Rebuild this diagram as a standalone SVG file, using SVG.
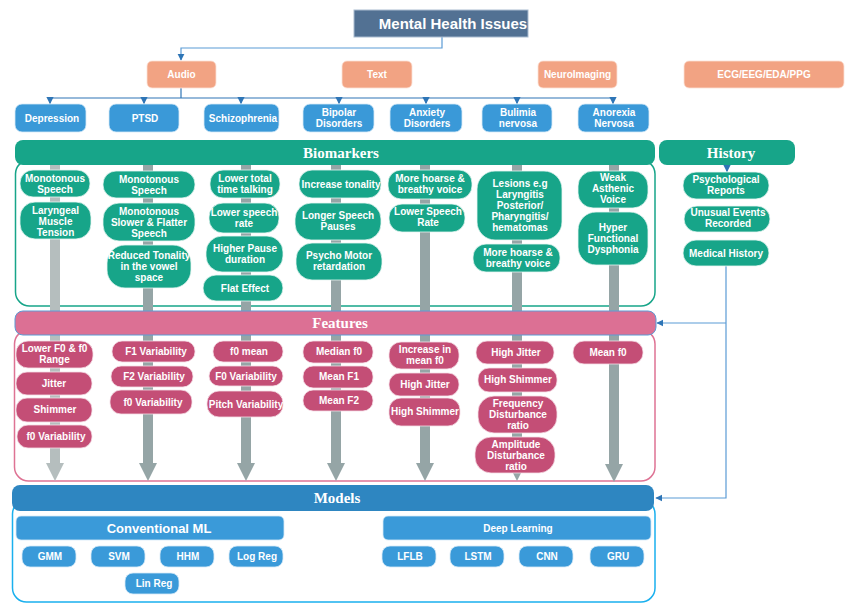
<svg xmlns="http://www.w3.org/2000/svg" width="861" height="615" viewBox="0 0 861 615">
<defs>
<style>
.t{font-family:"Liberation Sans",Arial,sans-serif;font-weight:bold;font-size:10px;fill:#fff;text-anchor:middle}
.h{font-family:"Liberation Serif","Times New Roman",serif;font-weight:bold;font-size:15px;fill:#fff;text-anchor:middle}
.bio{fill:#17A589;stroke:#E8F6F3;stroke-width:0.8}
.feat{fill:#C44E76;stroke:#F5DDE6;stroke-width:0.8}
.dis{fill:#3A99D8;stroke:#D6EAF8;stroke-width:0.8}
.mod{fill:#3A9AD9;stroke:#D6EAF8;stroke-width:0.8}
.src{fill:#F2A383;stroke:#FBE1D6;stroke-width:0.8}
.ln{fill:none;stroke:#2E75B6;stroke-width:1.2}
.ln2{fill:none;stroke:#5B9BD5;stroke-width:1.2}
.shaft{fill:#95A5A6}
.shaft1{fill:#B5BEBE}
</style>
<marker id="ah" viewBox="0 0 10 10" refX="9" refY="5" markerWidth="6" markerHeight="6" orient="auto">
<path d="M0,0 L10,5 L0,10 z" fill="#2E75B6"/>
</marker>
</defs>

<!-- containers -->
<g id="containers">
<rect x="15.5" y="160" width="639.5" height="146" rx="14" fill="#fff" stroke="#17A589" stroke-width="1.5"/>
<rect x="14.5" y="330" width="640.5" height="151" rx="14" fill="#fff" stroke="#DE7394" stroke-width="1.5"/>
<rect x="12.5" y="500" width="642.5" height="102" rx="14" fill="#fff" stroke="#1AB0EE" stroke-width="1.5"/>
</g>

<!-- gray flow arrows -->
<g id="flow-arrows">
<rect class="shaft1" x="50" y="160" width="10" height="305"/>
<path class="shaft1" d="M46,463 L64,463 L55,481 z"/>
<rect class="shaft" x="143" y="160" width="10" height="305"/>
<path class="shaft" d="M139,463 L157,463 L148,481 z"/>
<rect class="shaft" x="241" y="160" width="10" height="305"/>
<path class="shaft" d="M237,463 L255,463 L246,481 z"/>
<rect class="shaft" x="331" y="160" width="10" height="305"/>
<path class="shaft" d="M327,463 L345,463 L336,481 z"/>
<rect class="shaft" x="420" y="160" width="10" height="305"/>
<path class="shaft" d="M416,463 L434,463 L425,481 z"/>
<rect class="shaft" x="512" y="160" width="10" height="305"/>
<path class="shaft" d="M508,463 L526,463 L517,481 z"/>
<rect class="shaft" x="609" y="160" width="10" height="305"/>
<path class="shaft" d="M605,464 L623,464 L614,482 z"/>
</g>

<!-- connectors -->
<g id="connectors">
<path class="ln2" d="M442,37 L442,48 L181,48 L181,60" marker-end="url(#ah)"/>
<path class="ln" d="M181,88 L181,98" stroke-width="1.6"/>
<path class="ln" d="M50,98 L614,98"/>
<path class="ln" d="M50,98 L50,103.5" marker-end="url(#ah)"/>
<path class="ln" d="M144,98 L144,103.5" marker-end="url(#ah)"/>
<path class="ln" d="M241,98 L241,103.5" marker-end="url(#ah)"/>
<path class="ln" d="M339,98 L339,103.5" marker-end="url(#ah)"/>
<path class="ln" d="M426,98 L426,103.5" marker-end="url(#ah)"/>
<path class="ln" d="M517,98 L517,103.5" marker-end="url(#ah)"/>
<path class="ln" d="M613,98 L613,103.5" marker-end="url(#ah)"/>
<path class="ln" d="M727,165 L727,171.5" marker-end="url(#ah)"/>
<path class="ln2" d="M726,266 L726,498 L656,498" marker-end="url(#ah)"/>
<path class="ln2" d="M726,323 L657,323" marker-end="url(#ah)"/>
</g>

<!-- title and sources -->
<g id="title">
<rect x="354" y="10" width="174" height="27" fill="#527193" stroke="#A9BCD0" stroke-width="1"/>
<text x="453" y="28.5" class="t" style="font-size:15px">Mental Health Issues</text>
</g>
<g id="src-audio"><rect class="src" x="147" y="61" width="69" height="27" rx="5"/><text class="t" x="181.5" y="78">Audio</text></g>
<g id="src-text"><rect class="src" x="342" y="61" width="70" height="27" rx="5"/><text class="t" x="377" y="78">Text</text></g>
<g id="src-neuro"><rect class="src" x="538" y="61" width="79" height="27" rx="5"/><text class="t" x="577.5" y="78">NeuroImaging</text></g>
<g id="src-ecg"><rect class="src" x="684" y="61" width="160" height="27" rx="5"/><text class="t" x="764" y="78">ECG/EEG/EDA/PPG</text></g>

<!-- disorders -->
<g id="dis-depression"><rect class="dis" x="15" y="104" width="71" height="28" rx="7"/><text class="t" x="52" y="121.5">Depression</text></g>
<g id="dis-ptsd"><rect class="dis" x="109" y="104" width="70" height="28" rx="7"/><text class="t" x="145" y="121.5">PTSD</text></g>
<g id="dis-schizo"><rect class="dis" x="204" y="104" width="75" height="28" rx="7"/><text class="t" x="243" y="121.5">Schizophrenia</text></g>
<g id="dis-bipolar"><rect class="dis" x="303" y="104" width="71" height="28" rx="7"/><text class="t" x="339" y="115.5">Bipolar<tspan x="339" dy="11">Disorders</tspan></text></g>
<g id="dis-anxiety"><rect class="dis" x="390" y="104" width="72" height="28" rx="7"/><text class="t" x="427" y="115.5">Anxiety<tspan x="427" dy="11">Disorders</tspan></text></g>
<g id="dis-bulimia"><rect class="dis" x="482" y="104" width="70" height="28" rx="7"/><text class="t" x="518" y="115.5">Bulimia<tspan x="518" dy="11">nervosa</tspan></text></g>
<g id="dis-anorexia"><rect class="dis" x="578" y="104" width="71" height="28" rx="7"/><text class="t" x="614" y="115.5">Anorexia<tspan x="614" dy="11">Nervosa</tspan></text></g>

<!-- section bars -->
<g id="bar-biomarkers"><rect x="15" y="140" width="640" height="25" rx="8" fill="#17A589"/><text class="h" x="341" y="157.5">Biomarkers</text></g>
<g id="bar-history"><rect x="659" y="140" width="136" height="25" rx="8" fill="#17A589"/><text class="h" x="731" y="157.5">History</text></g>
<g id="bar-features"><rect x="15" y="311" width="641" height="24" rx="8" fill="#DC7094" stroke="#5B9BD5" stroke-width="1"/><text class="h" x="340" y="327.5">Features</text></g>
<g id="bar-models"><rect x="12" y="485" width="642" height="26" rx="8" fill="#2E86C1"/><text class="h" x="337" y="502.5">Models</text></g>

<!-- biomarker nodes -->
<g id="bio-1"><rect class="bio" x="20" y="170" width="70" height="27" rx="13"/><text class="t" x="55" y="181.5">Monotonous<tspan x="55" dy="11">Speech</tspan></text></g>
<g id="bio-2"><rect class="bio" x="20" y="202" width="71" height="37" rx="15"/><text class="t" x="55.5" y="213.5">Laryngeal<tspan x="55.5" dy="11">Muscle</tspan><tspan x="55.5" dy="11">Tension</tspan></text></g>
<g id="bio-3"><rect class="bio" x="103" y="171" width="92" height="27" rx="13"/><text class="t" x="149" y="182.5">Monotonous<tspan x="149" dy="11">Speech</tspan></text></g>
<g id="bio-4"><rect class="bio" x="103" y="203" width="92" height="38" rx="16"/><text class="t" x="149" y="214.5">Monotonous<tspan x="149" dy="11">Slower &amp; Flatter</tspan><tspan x="149" dy="11">Speech</tspan></text></g>
<g id="bio-5"><rect class="bio" x="107" y="245" width="84" height="43" rx="18"/><text class="t" x="149" y="258.5">Reduced Tonality<tspan x="149" dy="11">in the vowel</tspan><tspan x="149" dy="11">space</tspan></text></g>
<g id="bio-6"><rect class="bio" x="210" y="170" width="70" height="28" rx="13"/><text class="t" x="245" y="181.5">Lower total<tspan x="245" dy="11">time talking</tspan></text></g>
<g id="bio-7"><rect class="bio" x="209" y="203" width="70" height="30" rx="14"/><text class="t" x="244" y="215.5">Lower speech<tspan x="244" dy="11">rate</tspan></text></g>
<g id="bio-8"><rect class="bio" x="206" y="236" width="77" height="36" rx="16"/><text class="t" x="245" y="251.5">Higher Pause<tspan x="245" dy="11">duration</tspan></text></g>
<g id="bio-9"><rect class="bio" x="203" y="275" width="80" height="26" rx="13"/><text class="t" x="245" y="291.5">Flat Effect</text></g>
<g id="bio-10"><rect class="bio" x="299" y="170" width="82" height="28" rx="13"/><text class="t" x="341" y="187.5">Increase tonality</text></g>
<g id="bio-11"><rect class="bio" x="295" y="203" width="86" height="37" rx="16"/><text class="t" x="338" y="219">Longer Speech<tspan x="338" dy="11">Pauses</tspan></text></g>
<g id="bio-12"><rect class="bio" x="296" y="243" width="86" height="37" rx="16"/><text class="t" x="339" y="259">Psycho Motor<tspan x="339" dy="11">retardation</tspan></text></g>
<g id="bio-13"><rect class="bio" x="388" y="170" width="84" height="29" rx="13"/><text class="t" x="430" y="182">More hoarse &amp;<tspan x="430" dy="11">breathy voice</tspan></text></g>
<g id="bio-14"><rect class="bio" x="389" y="204" width="76" height="28" rx="13"/><text class="t" x="428" y="215">Lower Speech<tspan x="428" dy="11">Rate</tspan></text></g>
<g id="bio-15"><rect class="bio" x="477" y="171" width="85" height="69" rx="18"/><text class="t" x="520" y="186.5">Lesions e.g<tspan x="520" dy="11">Laryngitis</tspan><tspan x="520" dy="11">Posterior/</tspan><tspan x="520" dy="11">Pharyngitis/</tspan><tspan x="520" dy="11">hematomas</tspan></text></g>
<g id="bio-16"><rect class="bio" x="473" y="244" width="87" height="28" rx="13"/><text class="t" x="518" y="255.5">More hoarse &amp;<tspan x="518" dy="11">breathy voice</tspan></text></g>
<g id="bio-17"><rect class="bio" x="578" y="171" width="70" height="37" rx="15"/><text class="t" x="613" y="180.5">Weak<tspan x="613" dy="11">Asthenic</tspan><tspan x="613" dy="11">Voice</tspan></text></g>
<g id="bio-18"><rect class="bio" x="578" y="212" width="70" height="53" rx="18"/><text class="t" x="613" y="230.5">Hyper<tspan x="613" dy="11">Functional</tspan><tspan x="613" dy="11">Dysphonia</tspan></text></g>

<!-- history nodes -->
<g id="hist-1"><rect class="bio" x="683" y="172" width="86" height="27" rx="13"/><text class="t" x="726" y="182.5">Psychological<tspan x="726" dy="11">Reports</tspan></text></g>
<g id="hist-2"><rect class="bio" x="684" y="206" width="86" height="26" rx="13"/><text class="t" x="728" y="216">Unusual Events<tspan x="728" dy="11">Recorded</tspan></text></g>
<g id="hist-3"><rect class="bio" x="683" y="240" width="86" height="26" rx="13"/><text class="t" x="726" y="256.5">Medical History</text></g>

<!-- feature nodes -->
<g id="feat-1"><rect class="feat" x="16" y="341" width="77" height="27" rx="12"/><text class="t" x="54.5" y="352">Lower F0 &amp; f0<tspan x="54.5" dy="11">Range</tspan></text></g>
<g id="feat-2"><rect class="feat" x="16" y="372" width="76" height="23" rx="11"/><text class="t" x="54" y="387">Jitter</text></g>
<g id="feat-3"><rect class="feat" x="16" y="398" width="76" height="24" rx="11"/><text class="t" x="55" y="413">Shimmer</text></g>
<g id="feat-4"><rect class="feat" x="17" y="425" width="75" height="23" rx="11"/><text class="t" x="56" y="440">f0 Variability</text></g>
<g id="feat-5"><rect class="feat" x="112" y="341" width="83" height="21" rx="10"/><text class="t" x="156" y="355">F1 Variability</text></g>
<g id="feat-6"><rect class="feat" x="111" y="366" width="82" height="21" rx="10"/><text class="t" x="154" y="380">F2 Variability</text></g>
<g id="feat-7"><rect class="feat" x="110" y="390" width="82" height="24" rx="11"/><text class="t" x="153" y="405.5">f0 Variability</text></g>
<g id="feat-8"><rect class="feat" x="213" y="341" width="70" height="21" rx="10"/><text class="t" x="249" y="355">f0 mean</text></g>
<g id="feat-9"><rect class="feat" x="209" y="366" width="74" height="20" rx="10"/><text class="t" x="246" y="379.5">F0 Variability</text></g>
<g id="feat-10"><rect class="feat" x="207" y="391" width="76" height="26" rx="12"/><text class="t" x="246" y="407.5">Pitch Variability</text></g>
<g id="feat-11"><rect class="feat" x="303" y="341" width="70" height="22" rx="10"/><text class="t" x="339" y="354.5">Median f0</text></g>
<g id="feat-12"><rect class="feat" x="303" y="366" width="70" height="22" rx="10"/><text class="t" x="339" y="379.5">Mean F1</text></g>
<g id="feat-13"><rect class="feat" x="303" y="390" width="70" height="21" rx="10"/><text class="t" x="339" y="403.5">Mean F2</text></g>
<g id="feat-14"><rect class="feat" x="389" y="342" width="70" height="27" rx="12"/><text class="t" x="425" y="353">Increase in<tspan x="425" dy="11">mean f0</tspan></text></g>
<g id="feat-15"><rect class="feat" x="389" y="373" width="70" height="23" rx="11"/><text class="t" x="425" y="388">High Jitter</text></g>
<g id="feat-16"><rect class="feat" x="389" y="398" width="71" height="28" rx="12"/><text class="t" x="425" y="414.5">High Shimmer</text></g>
<g id="feat-17"><rect class="feat" x="476" y="341" width="78" height="23" rx="11"/><text class="t" x="516" y="355.5">High Jitter</text></g>
<g id="feat-18"><rect class="feat" x="478" y="368" width="79" height="24" rx="11"/><text class="t" x="518" y="382.5">High Shimmer</text></g>
<g id="feat-19"><rect class="feat" x="478" y="396" width="79" height="37" rx="16"/><text class="t" x="518" y="406.5">Frequency<tspan x="518" dy="11">Disturbance</tspan><tspan x="518" dy="11">ratio</tspan></text></g>
<g id="feat-20"><rect class="feat" x="475" y="437" width="80" height="36" rx="16"/><text class="t" x="516" y="447.5">Amplitude<tspan x="516" dy="11">Disturbance</tspan><tspan x="516" dy="11">ratio</tspan></text></g>
<g id="feat-21"><rect class="feat" x="573" y="341" width="70" height="23" rx="11"/><text class="t" x="608" y="355.5">Mean f0</text></g>

<!-- model nodes -->
<g id="mod-conv"><rect class="mod" x="16" y="516" width="268" height="24" rx="5"/><text class="t" x="159" y="533" style="font-size:13px">Conventional ML</text></g>
<g id="mod-deep"><rect class="mod" x="383" y="516" width="268" height="24" rx="5"/><text class="t" x="518" y="531.5">Deep Learning</text></g>
<g id="mod-gmm"><rect class="mod" x="22" y="546" width="54" height="21" rx="8"/><text class="t" x="50" y="560">GMM</text></g>
<g id="mod-svm"><rect class="mod" x="91" y="546" width="54" height="21" rx="8"/><text class="t" x="119" y="560">SVM</text></g>
<g id="mod-hhm"><rect class="mod" x="160" y="546" width="54" height="21" rx="8"/><text class="t" x="188" y="560">HHM</text></g>
<g id="mod-logreg"><rect class="mod" x="229" y="546" width="54" height="21" rx="8"/><text class="t" x="257" y="560">Log Reg</text></g>
<g id="mod-linreg"><rect class="mod" x="125" y="573" width="54" height="21" rx="8"/><text class="t" x="154" y="587">Lin Reg</text></g>
<g id="mod-lflb"><rect class="mod" x="382" y="546" width="54" height="21" rx="8"/><text class="t" x="410" y="560">LFLB</text></g>
<g id="mod-lstm"><rect class="mod" x="450" y="546" width="54" height="21" rx="8"/><text class="t" x="478" y="560">LSTM</text></g>
<g id="mod-cnn"><rect class="mod" x="519" y="546" width="54" height="21" rx="8"/><text class="t" x="547" y="560">CNN</text></g>
<g id="mod-gru"><rect class="mod" x="590" y="546" width="54" height="21" rx="8"/><text class="t" x="618" y="560">GRU</text></g>
</svg>
